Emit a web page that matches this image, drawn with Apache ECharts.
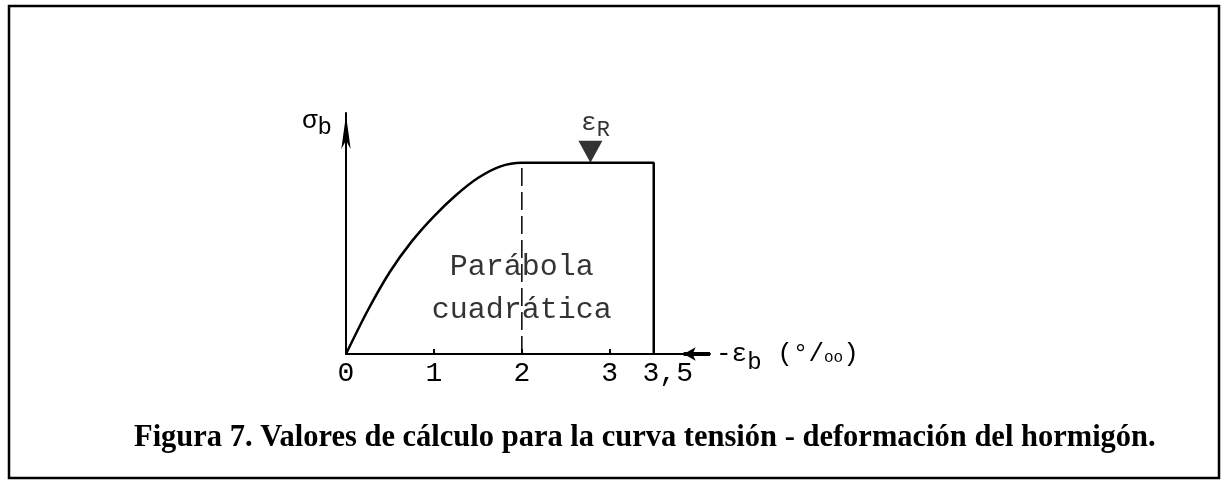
<!DOCTYPE html>
<html>
<head>
<meta charset="utf-8">
<script src="https://cdn.jsdelivr.net/npm/echarts@6/dist/echarts.min.js"></script>
<style>
  html, body { margin: 0; padding: 0; background: #fff; }
  #chart { width: 1223px; height: 481px; }
</style>
</head>
<body>
<div id="chart"></div>
<script>
// Design stress–strain diagram of concrete (parabola–rectangle)
const strain = [0, 0.25, 0.5, 0.75, 1, 1.25, 1.5, 1.75, 2, 3.5, 3.5];
const stress = [0, 0.23, 0.43, 0.59, 0.72, 0.83, 0.92, 0.98, 1, 1, 0];
const peakStrain = 2;          // end of the parabola
const peakStress = 1;
const ultimateStrain = 2.78;   // position of the ε_R marker
const tickValues = [0, 1, 2, 3, 3.5];
const tickLabels = ['0', '1', '2', '3', '3,5'];
const regionText = ['Parábola', 'cuadrática'];
const regionTextY = [0.457, 0.232];
const caption = 'Figura 7. Valores de cálculo para la curva tensión - deformación del hormigón.';

const mono = 'Liberation Mono';
const chart = echarts.init(document.getElementById('chart'), null, { renderer: 'canvas' });

chart.setOption({
  animation: false,
  backgroundColor: '#fff',
  title: {
    text: caption,
    left: 129,
    top: 418,
    textStyle: { fontFamily: 'Liberation Serif', fontWeight: 'bold', fontSize: 30.5, color: '#000' }
  },
  graphic: [{
    type: 'rect',
    shape: { x: 9, y: 6, width: 1210, height: 472 },
    style: { fill: 'none', stroke: '#000', lineWidth: 2.5 },
    silent: true
  }],
  grid: { left: 346, right: 513, top: 113, bottom: 127 },
  xAxis: {
    type: 'value',
    min: 0,
    max: 4.14,
    splitLine: { show: false },
    axisLine: { lineStyle: { color: '#000', width: 2 } },
    axisTick: { customValues: [1, 2, 3, 3.5], inside: true, length: 5, lineStyle: { color: '#000', width: 2 } },
    axisLabel: {
      customValues: tickValues,
      margin: 6,
      fontFamily: mono,
      fontSize: 28,
      color: '#000',
      formatter: function (v) {
        const label = tickLabels[tickValues.indexOf(v)];
        return v === 3.5 ? '{s|' + label + '}' : label;
      },
      rich: { s: { fontFamily: mono, fontSize: 28, color: '#000', padding: [0, 0, 0, 28] } }
    },
    name: '{a|-ε}{b|b}{c| (°/}{o|oo}{c|)}',
    nameLocation: 'end',
    nameGap: 6,
    nameTextStyle: {
      align: 'left',
      rich: {
        a: { fontFamily: mono, fontSize: 26, color: '#000' },
        b: { fontFamily: mono, fontSize: 24, color: '#000', padding: [18, 0, 0, 0] },
        c: { fontFamily: mono, fontSize: 26, color: '#000' },
        o: { fontFamily: mono, fontSize: 16, color: '#000', padding: [8, 0, 0, 0] }
      }
    }
  },
  yAxis: {
    type: 'value',
    min: 0,
    max: 1.26,
    splitLine: { show: false },
    axisTick: { show: false },
    axisLabel: { show: false },
    axisLine: {
      lineStyle: { color: '#000', width: 2 },
      symbol: ['none', 'arrow'],
      symbolSize: [7, 34],
      symbolOffset: [0, -2]
    },
    name: '{s|σ}{b|b}',
    nameLocation: 'end',
    nameGap: -27,
    nameTextStyle: {
      align: 'right',
      padding: [0, 14, 0, 0],
      rich: {
        s: { fontFamily: mono, fontSize: 26, color: '#000' },
        b: { fontFamily: mono, fontSize: 24, color: '#000', padding: [14, 0, 0, 0] }
      }
    }
  },
  series: [
    {
      type: 'line',
      data: strain.map((x, i) => [x, stress[i]]),
      smooth: 0.3,
      symbol: 'none',
      lineStyle: { color: '#000', width: 2.5 },
      markLine: {
        silent: true,
        symbol: ['none', 'arrow'],
        symbolSize: [10, 12],
        lineStyle: { color: '#000', width: 4, type: 'solid' },
        label: { show: false },
        data: [[{ coord: [4.14, 0] }, { coord: [3.84, 0] }]]
      }
    },
    {
      type: 'line',
      data: [[peakStrain, 0], [peakStrain, peakStress]],
      symbol: 'none',
      lineStyle: { color: '#000', width: 1.5, type: [18, 6] }
    },
    {
      type: 'scatter',
      data: [[ultimateStrain, peakStress]],
      symbol: 'triangle',
      symbolRotate: 180,
      symbolSize: [24, 22],
      symbolOffset: [0, -11],
      itemStyle: { color: '#000' },
      label: {
        show: true,
        position: 'top',
        distance: 0,
        offset: [5, 0],
        formatter: '{e|ε}{r|R}',
        rich: {
          e: { fontFamily: mono, fontSize: 26, color: '#000' },
          r: { fontFamily: mono, fontSize: 22, color: '#000', padding: [14, 0, 0, 0] }
        }
      }
    },
    {
      type: 'scatter',
      data: regionText.map((t, i) => [peakStrain, regionTextY[i], t]),
      symbolSize: 1,
      itemStyle: { color: 'rgba(0,0,0,0)' },
      label: {
        show: true,
        position: 'inside',
        formatter: p => p.data[2],
        fontFamily: mono,
        fontSize: 30,
        color: '#000'
      }
    }
  ]
});
</script>
</body>
</html>
